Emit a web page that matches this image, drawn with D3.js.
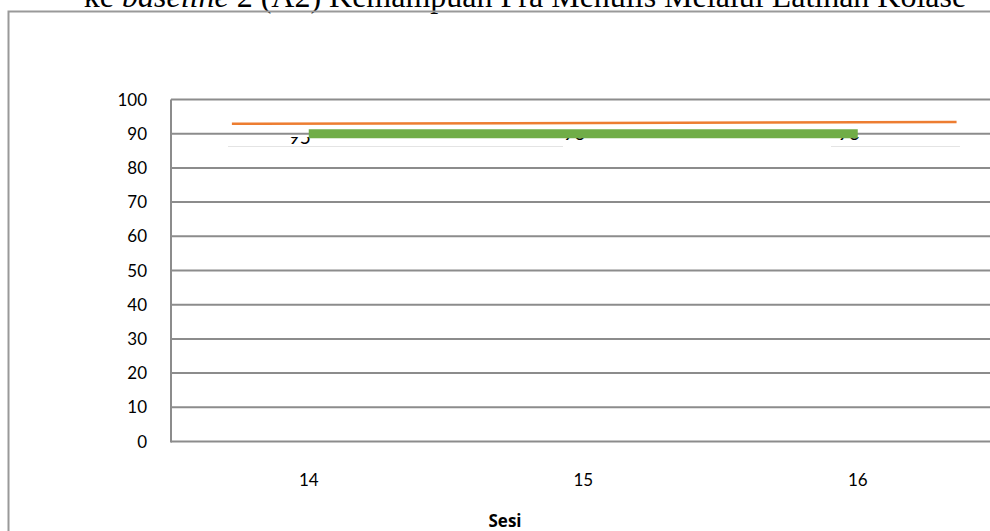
<!DOCTYPE html>
<html>
<head>
<meta charset="utf-8">
<script src="https://cdn.jsdelivr.net/npm/d3@7"></script>
<style>
  html, body { margin: 0; padding: 0; background: #fff; overflow: hidden; }
  svg { display: block; }
</style>
</head>
<body>
<svg id="chart" width="990" height="531"></svg>
<script>
// Sessions on the x axis
const sessions = [14, 15, 16];
// Y axis ticks
const yTicks = [0, 10, 20, 30, 40, 50, 60, 70, 80, 90, 100];
// Data labels of the score series
const scoreLabels = [95, 96, 96];
// Mean level band (green)
const meanStart = 14, meanEnd = 16;
const meanLevel = [90, 90];
// Trend line (orange)
const trendSessions = [13.72, 16.36];
const trendValues = [92.9, 93.4];

const svg = d3.select("#chart");
const W = 990, H = 531;

const x = d3.scaleLinear().domain([13.5, 16.5]).range([171.5, 995]);
const y = d3.scaleLinear().domain([0, 100]).range([441.5, 99.5]);

// Caption above the frame (only its lower part shows)
const title = svg.append("text")
  .attr("x", 525).attr("y", 7)
  .attr("text-anchor", "middle")
  .attr("font-family", "'Liberation Serif', 'Times New Roman', serif")
  .attr("font-size", 32)
  .attr("fill", "#000");
title.append("tspan").text("ke ");
title.append("tspan").attr("font-style", "italic").text("baseline");
title.append("tspan").text(" 2 (A2) Kemampuan Pra Menulis Melalui Latihan Kolase");

// Chart frame
svg.append("path")
  .attr("d", `M8.5,${H + 5} V11.5 H${W + 5}`)
  .attr("fill", "none")
  .attr("stroke", "#999")
  .attr("stroke-width", 2);

// Horizontal gridlines
svg.append("g").selectAll("line")
  .data(yTicks)
  .join("line")
  .attr("x1", 171).attr("x2", W + 5)
  .attr("y1", d => y(d)).attr("y2", d => y(d))
  .attr("stroke", "#8c8c8c")
  .attr("stroke-width", 2);

// Vertical axis line
svg.append("line")
  .attr("x1", 171).attr("x2", 171)
  .attr("y1", y(100)).attr("y2", y(0) + 1)
  .attr("stroke", "#8c8c8c")
  .attr("stroke-width", 2);

// Y tick labels
svg.append("g").selectAll("text")
  .data(yTicks)
  .join("text")
  .attr("x", 147)
  .attr("y", d => y(d) + 6)
  .attr("text-anchor", "end")
  .attr("font-family", "Lato, 'Open Sans', sans-serif")
  .attr("font-size", 17)
  .attr("fill", "#000")
  .text(d => d);

// X tick labels
svg.append("g").selectAll("text")
  .data(sessions)
  .join("text")
  .attr("x", d => x(d))
  .attr("y", 486)
  .attr("text-anchor", "middle")
  .attr("font-family", "Lato, 'Open Sans', sans-serif")
  .attr("font-size", 17)
  .attr("fill", "#000")
  .text(d => d);

// X axis title
svg.append("text")
  .attr("x", 505).attr("y", 527)
  .attr("text-anchor", "middle")
  .attr("font-family", "'Open Sans', Lato, sans-serif")
  .attr("font-weight", "bold")
  .attr("font-size", 17)
  .attr("fill", "#000")
  .text("Sesi");

// Score labels, partly covered by the overlay box
svg.append("defs").append("clipPath").attr("id", "labelClip")
  .append("rect")
  .attr("x", 171).attr("y", 137)
  .attr("width", W).attr("height", 10);

svg.append("g").attr("clip-path", "url(#labelClip)")
  .selectAll("text")
  .data(scoreLabels)
  .join("text")
  .attr("x", (d, i) => x(sessions[i]) - 9)
  .attr("y", d => y(d) + 27)
  .attr("text-anchor", "middle")
  .attr("font-family", "Lato, 'Open Sans', sans-serif")
  .attr("font-size", 19)
  .attr("fill", "#000")
  .text(d => d);

// Faint lower edge of the overlay box
svg.append("g").selectAll("line")
  .data([[228, 563], [831, 960]])
  .join("line")
  .attr("x1", d => d[0]).attr("x2", d => d[1])
  .attr("y1", 146.5).attr("y2", 146.5)
  .attr("stroke", "#e4e4e4")
  .attr("stroke-width", 1);

// Mean level (green)
svg.append("line")
  .attr("x1", x(meanStart)).attr("x2", x(meanEnd))
  .attr("y1", y(meanLevel[0])).attr("y2", y(meanLevel[1]))
  .attr("stroke", "#70ad47")
  .attr("stroke-width", 9);

// Trend line (orange)
const trend = trendSessions.map((s, i) => [x(s), y(trendValues[i])]);
svg.append("path")
  .attr("d", d3.line()(trend))
  .attr("fill", "none")
  .attr("stroke", "#ed7d31")
  .attr("stroke-width", 2.5);
</script>
</body>
</html>
